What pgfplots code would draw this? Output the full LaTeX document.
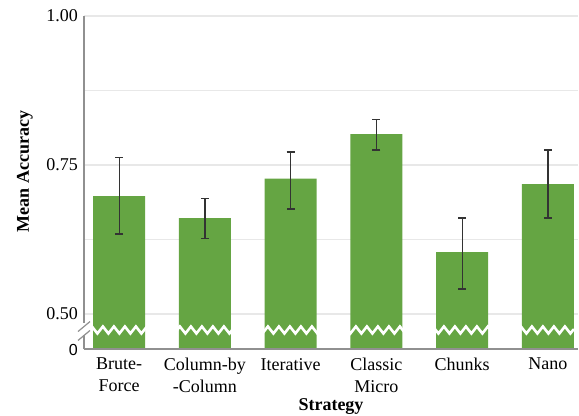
\documentclass[border=0pt]{standalone}
\usepackage{pgfplots}
\pgfplotsset{compat=1.18}
\usepackage{pgfplotstable}
\usepackage{fontspec}
\setmainfont{Liberation Serif}
\newfontfamily\arialfont{Liberation Sans}
\usetikzlibrary{decorations.pathmorphing}
\definecolor{barg}{HTML}{65A543}
\definecolor{gridc}{HTML}{E8E8E8}
\definecolor{axc}{HTML}{909090}
\definecolor{errc}{HTML}{333333}
\pgfplotstableread{
x y ep em
0 0.698 0.065 0.064
1 0.661 0.033 0.034
2 0.727 0.045 0.051
3 0.802 0.024 0.027
4 0.604 0.057 0.062
5 0.718 0.057 0.057
}\datatable
\begin{document}
\fontsize{18}{22}\selectfont
\begin{tikzpicture}
\begin{axis}[
  scale only axis,
  width=494pt, height=333pt,
  xmin=-0.41, xmax=5.35,
  ymin=0.4413, ymax=1.0,
  axis line style={draw=none},
  xtick=data,
  xticklabels={Brute-\\Force, Column-by\\-Column, Iterative, Classic\\Micro, Chunks, Nano},
  xticklabel style={align=center, font=\fontsize{18}{22}\selectfont, yshift=-3pt},
  ytick={0.5,0.75,1.0},
  yticklabels={0.50,0.75,1.00},
  yticklabel style={font=\fontsize{18}{22}\selectfont},
  minor ytick={0.625,0.875},
  extra y ticks={0.4413},
  extra y tick labels={{\arialfont\fontsize{16}{18}\selectfont 0}},
  extra y tick style={grid=none, yticklabel style={yshift=-1pt}},
  major tick length=0pt, minor tick length=0pt,
  ymajorgrids, yminorgrids,
  major grid style={gridc, line width=1.5pt},
  minor grid style={gridc, line width=1.5pt},
  xlabel={\textbf{Strategy}},
  ylabel={\textbf{Mean Accuracy}},
  xlabel style={at={(rel axis cs:0.5,0)}, anchor=base, yshift=-61pt, font=\fontsize{18}{22}\selectfont},
  ylabel style={at={(rel axis cs:0,0.5)}, anchor=center, xshift=11pt, yshift=59pt, font=\fontsize{18}{22}\selectfont},
  clip=false,
]
\addplot[ybar, bar width=52pt, fill=barg, draw=none,
  error bars/.cd, y dir=both, y explicit,
  error bar style={errc, line width=1.3pt},
  error mark options={errc, rotate=90, mark size=4pt, line width=1.3pt}]
  table[x=x, y=y, y error plus=ep, y error minus=em] {\datatable};
\draw[white, line width=2.6pt, decorate, decoration={zigzag, segment length=11pt, amplitude=3.5pt}]
  (axis cs:-0.35,0.4732) -- (axis cs:5.33,0.4732);
\draw[axc, line width=1.5pt] (rel axis cs:0,0) -- (rel axis cs:1,0);
\draw[axc, line width=1.5pt] (rel axis cs:0,0) -- (axis cs:-0.41,0.4640);
\draw[axc, line width=1.5pt] (axis cs:-0.41,0.4850) -- (rel axis cs:0,1);
\draw[axc, line width=1.2pt] ([xshift=-6pt,yshift=-5pt]axis cs:-0.41,0.4640) -- ([xshift=6pt,yshift=5pt]axis cs:-0.41,0.4640);
\draw[axc, line width=1.2pt] ([xshift=-6pt,yshift=-5pt]axis cs:-0.41,0.4790) -- ([xshift=6pt,yshift=5pt]axis cs:-0.41,0.4790);
\coordinate (SW) at (rel axis cs:0,0);
\coordinate (NE) at (rel axis cs:1,1);
\end{axis}
\pgfresetboundingbox
\path ([xshift=-84pt,yshift=-66pt]SW) rectangle ([xshift=1pt,yshift=16pt]NE);
\end{tikzpicture}
\end{document}
